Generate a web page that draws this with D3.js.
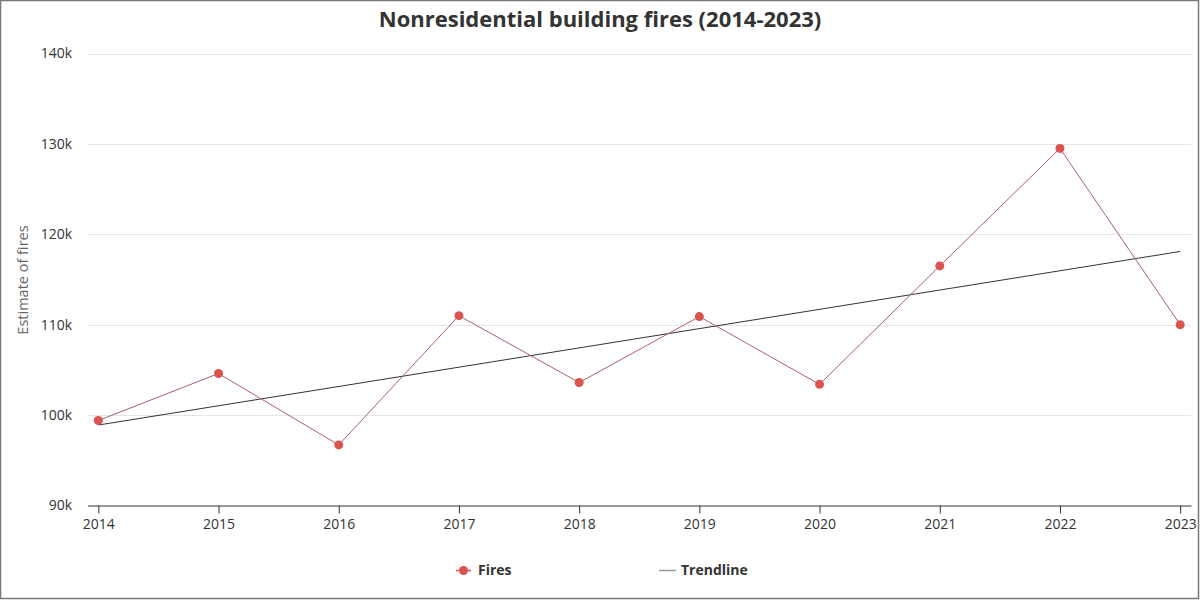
<!DOCTYPE html>
<html><head><meta charset="utf-8">
<script src="https://cdn.jsdelivr.net/npm/d3@7"></script>
<style>
html,body{margin:0;padding:0;background:#fff;}
svg{display:block;font-family:"Open Sans",sans-serif;}
</style></head>
<body>
<svg id="chart" width="1200" height="600"></svg>
<script>
const years = [2014,2015,2016,2017,2018,2019,2020,2021,2022,2023];
const fires = [99400,104600,96700,111000,103600,110900,103400,116500,129500,110000];
const trendYears = [2014,2023];
const trendValues = [98900,118100];
const yTicks = [90000,100000,110000,120000,130000,140000];
const yTickLabels = ["90k","100k","110k","120k","130k","140k"];
const title = "Nonresidential building fires (2014-2023)";
const yLabel = "Estimate of fires";

const svg = d3.select("#chart");
const W = 1200, H = 600;
svg.append("rect").attr("x",0.5).attr("y",0.5).attr("width",W-2).attr("height",H-2)
  .attr("fill","#fff").attr("stroke","#777").attr("stroke-width",1.5);

const x = d3.scalePoint().domain(years).range([87.5,1191]).padding(0.09);
const y = d3.scaleLinear().domain([90000,140000]).range([505.5,53.5]);

// gridlines
svg.append("g").selectAll("line").data(yTicks.slice(1)).join("line")
  .attr("x1",88).attr("x2",1191).attr("y1",d=>Math.round(y(d))+0.5).attr("y2",d=>Math.round(y(d))+0.5)
  .attr("stroke","#e6e6e6").attr("stroke-width",1);

// y labels
svg.append("g").selectAll("text").data(yTicks).join("text")
  .attr("x",72).attr("y",d=>y(d)).attr("dy","0.35em").attr("text-anchor","end")
  .attr("font-size",14).attr("fill","#333").text((d,i)=>yTickLabels[i]);

// x axis
const xAxis = svg.append("g").attr("transform","translate(0,505.5)")
  .call(d3.axisBottom(x).tickSize(8).tickPadding(6).tickSizeOuter(0));
xAxis.select(".domain").attr("stroke","#333");
xAxis.selectAll(".tick line").attr("stroke","#333");
xAxis.selectAll(".tick text").attr("font-size",14).attr("fill","#333").attr("font-family","Open Sans, sans-serif");

// y axis title
svg.append("text").attr("transform","translate(28,280) rotate(-90)")
  .attr("text-anchor","middle").attr("font-size",14.5).attr("fill","#666").text(yLabel);

// title
svg.append("text").attr("x",600).attr("y",27).attr("text-anchor","middle")
  .attr("font-size",22).attr("font-weight","bold").attr("fill","#333").text(title);

// trendline
svg.append("path").datum(trendYears.map((t,i)=>[t,trendValues[i]]))
  .attr("d",d3.line().x(d=>x(d[0])).y(d=>y(d[1])))
  .attr("fill","none").attr("stroke","#333").attr("stroke-width",1);

// fires line
svg.append("path").datum(years.map((t,i)=>[t,fires[i]]))
  .attr("d",d3.line().x(d=>x(d[0])).y(d=>y(d[1])))
  .attr("fill","none").attr("stroke","#a8606e").attr("stroke-width",1);

svg.append("g").selectAll("circle").data(years.map((t,i)=>[t,fires[i]])).join("circle")
  .attr("cx",d=>x(d[0])).attr("cy",d=>y(d[1])).attr("r",4.5).attr("fill","#d9534f");

// legend
const lg = svg.append("g");
lg.append("line").attr("x1",456).attr("x2",471).attr("y1",570.5).attr("y2",570.5).attr("stroke","#d9534f").attr("stroke-width",1.5);
lg.append("circle").attr("cx",463.5).attr("cy",570.5).attr("r",4.5).attr("fill","#d9534f");
lg.append("text").attr("x",478).attr("y",570).attr("dy","0.35em").attr("font-size",14).attr("font-weight","bold").attr("fill","#333").text("Fires");
lg.append("line").attr("x1",659).attr("x2",676).attr("y1",570.5).attr("y2",570.5).attr("stroke","#999").attr("stroke-width",1.5);
lg.append("text").attr("x",681).attr("y",570).attr("dy","0.35em").attr("font-size",14).attr("font-weight","bold").attr("fill","#333").text("Trendline");
</script>
</body></html>
